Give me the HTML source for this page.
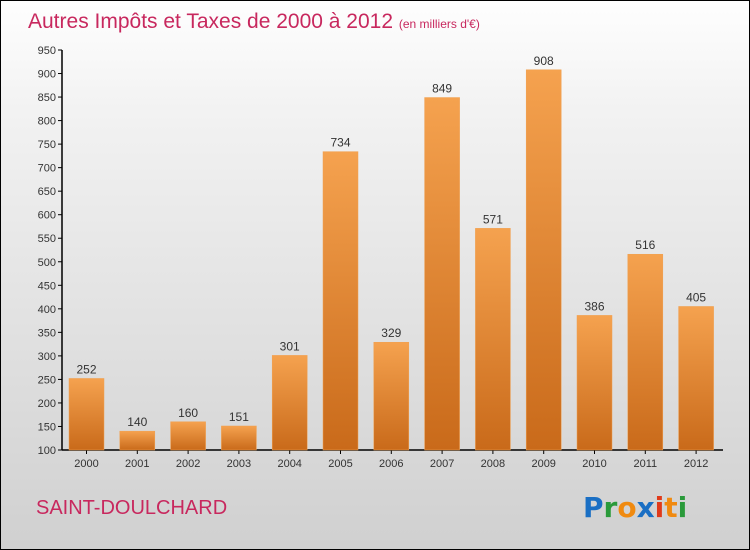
<!DOCTYPE html>
<html><head><meta charset="utf-8"><style>
body{margin:0}
#c{position:relative;width:748px;height:548px;border:1px solid #000;background:linear-gradient(#fefefe,#f2f2f2 20%,#d0d0d0);font-family:"Liberation Sans",sans-serif;overflow:hidden}
</style></head><body>
<div id="c">
<svg id="s" width="748" height="548" style="position:absolute;left:0;top:0">
<defs><linearGradient id="g" x1="0" y1="0" x2="0" y2="1"><stop offset="0" stop-color="#f5a24f"/><stop offset="1" stop-color="#c96a1a"/></linearGradient></defs>
<text x="27" y="27" font-size="21" fill="#c8285e">Autres Impôts et Taxes de 2000 à 2012 <tspan font-size="12">(en milliers d'€)</tspan></text>
<text x="35" y="513" font-size="20" fill="#c8285e">SAINT-DOULCHARD</text>
<g font-size="28" font-weight="bold" font-family="DejaVu Sans, sans-serif">
<text x="582" y="516"><tspan fill="#1a6fc4">P</tspan><tspan fill="#2a9a3a">r</tspan><tspan fill="#f08a10">o</tspan><tspan fill="#1a6fc4">x</tspan><tspan fill="#e03a1a">i</tspan><tspan fill="#f08a10">t</tspan><tspan fill="#2a9a3a">i</tspan></text></g>
<g id="ax"></g><g id="bars"></g>
</svg>
</div>
<script>
const years=["2000","2001","2002","2003","2004","2005","2006","2007","2008","2009","2010","2011","2012"];
const values=[252,140,160,151,301,734,329,849,571,908,386,516,405];
const ticks=[100,150,200,250,300,350,400,450,500,550,600,650,700,750,800,850,900,950];
const NS="http://www.w3.org/2000/svg";
const y=v=>449-(v-100)*400/850;
const xc=i=>85.5+i*50.8;
function mk(t,a,p,txt){const e=document.createElementNS(NS,t);for(const k in a)e.setAttribute(k,a[k]);if(txt!=null)e.textContent=txt;p.appendChild(e);return e;}
const ax=document.getElementById('ax'),bg=document.getElementById('bars');
const yl=mk('line',{x1:61,x2:61,y1:y(950),y2:449,stroke:'#000','stroke-width':1.5},ax);


const xl=mk('line',{x1:61,x2:722,y1:449,y2:449,stroke:'#000','stroke-width':1.5},ax);


ticks.forEach(t=>{
 mk('line',{x1:57,x2:61,y1:y(t),y2:y(t),stroke:'#000'},ax);
 const l=mk('text',{x:55,y:y(t)+4,'font-size':11,fill:'#333','text-anchor':'end'},ax,t);
 
 
});
years.forEach((yr,i)=>{
 const v=values[i],x=xc(i);
 const r=mk('rect',{x:x-17.5,y:y(v),width:35,height:449-y(v),fill:'url(#g)',stroke:'#f0a050','stroke-width':0.5},bg);
 
 
 const vl=mk('text',{x:x,y:y(v)-5,'font-size':12,fill:'#333','text-anchor':'middle'},bg,v);
 
 
 mk('line',{x1:x,x2:x,y1:449,y2:453,stroke:'#000'},ax);
 const xt=mk('text',{x:x,y:466,'font-size':11,fill:'#333','text-anchor':'middle'},ax,yr);
 
 
});
</script>
</body></html>
